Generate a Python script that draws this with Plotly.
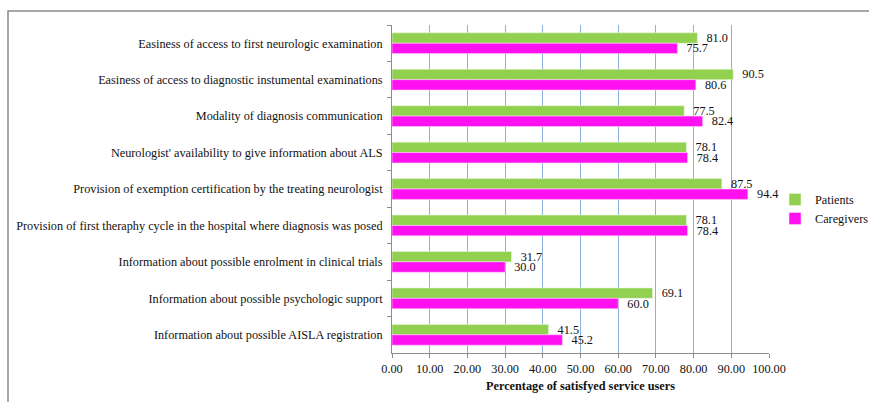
import plotly.graph_objects as go

categories = [
    "Easiness of access to first neurologic examination",
    "Easiness of access to diagnostic instumental examinations",
    "Modality of diagnosis communication",
    "Neurologist' availability to give information about ALS",
    "Provision of exemption certification by the treating neurologist",
    "Provision of first theraphy cycle in the hospital where diagnosis was posed",
    "Information about possible enrolment in clinical trials",
    "Information about possible psychologic support",
    "Information about possible AISLA registration",
]
patients = [81.0, 90.5, 77.5, 78.1, 87.5, 78.1, 31.7, 69.1, 41.5]
caregivers = [75.7, 80.6, 82.4, 78.4, 94.4, 78.4, 30.0, 60.0, 45.2]
x_ticks = [0, 10, 20, 30, 40, 50, 60, 70, 80, 90, 100]

FONT = "Liberation Serif, Times New Roman, serif"
FS = 12.25
W, H = 869, 402
ML, MR, MT, MB = 392, 100, 25, 49
PW, PH = W - ML - MR, H - MT - MB


def px_x(p):
    return (p - ML) / PW


def px_y(p):
    return (H - MB - p) / PH


fig = go.Figure()
fig.add_trace(go.Bar(
    y=categories, x=patients, orientation="h", name="Patients",
    marker=dict(color="#92D050", line=dict(color="#E8F5D8", width=0.6)),
    text=patients, texttemplate="  %{x:.1f}", textposition="outside",
    textfont=dict(family=FONT, size=FS, color="#111"),
    constraintext="none", cliponaxis=False,
))
fig.add_trace(go.Bar(
    y=categories, x=caregivers, orientation="h", name="Caregivers",
    marker=dict(color="#FF10F0", line=dict(color="#FFD0FA", width=0.6)),
    text=caregivers, texttemplate="  %{x:.1f}", textposition="outside",
    textfont=dict(family=FONT, size=FS, color="#111"),
    constraintext="none", cliponaxis=False,
))

fig.update_layout(
    width=W, height=H,
    margin=dict(l=ML, r=MR, t=MT, b=MB, pad=0, autoexpand=False),
    paper_bgcolor="white", plot_bgcolor="white",
    barmode="group", bargap=0.43, bargroupgap=0.0,
    font=dict(family=FONT, size=FS, color="#111"),
    showlegend=True,
    legend=dict(
        x=px_x(775), y=px_y(209), xanchor="left", yanchor="middle",
        font=dict(family=FONT, size=FS, color="#111"),
        bgcolor="rgba(0,0,0,0)", itemwidth=30, tracegroupgap=2,
    ),
    xaxis=dict(
        range=[0, 100], tickvals=x_ticks,
        ticktext=[f"{v:.2f}" for v in x_ticks],
        showgrid=True, gridcolor="#8FB0DA", gridwidth=1,
        showline=True, linecolor="#8C8C8C", linewidth=1,
        ticks="outside", ticklen=4, tickcolor="#8C8C8C",
        zeroline=False,
        tickfont=dict(family=FONT, size=FS, color="#111"),
        title=dict(text="<b>Percentage of satisfyed service users</b>",
                   font=dict(family=FONT, size=FS, color="#111"), standoff=6),
    ),
    yaxis=dict(
        autorange="reversed", type="category",
        showline=True, linecolor="#8C8C8C", linewidth=1,
        ticks="outside", ticklen=4, tickcolor="#8C8C8C",
        tickson="boundaries", showgrid=False,
        tickfont=dict(family=FONT, size=FS, color="#111"),
        ticklabelstandoff=6,
    ),
    shapes=[dict(
        type="rect", xref="paper", yref="paper",
        x0=px_x(8), x1=px_x(880), y0=px_y(420), y1=px_y(11),
        line=dict(color="#8A8A8A", width=1.5), fillcolor="rgba(0,0,0,0)",
        layer="below",
    )],
)

fig.write_html("out.html")
